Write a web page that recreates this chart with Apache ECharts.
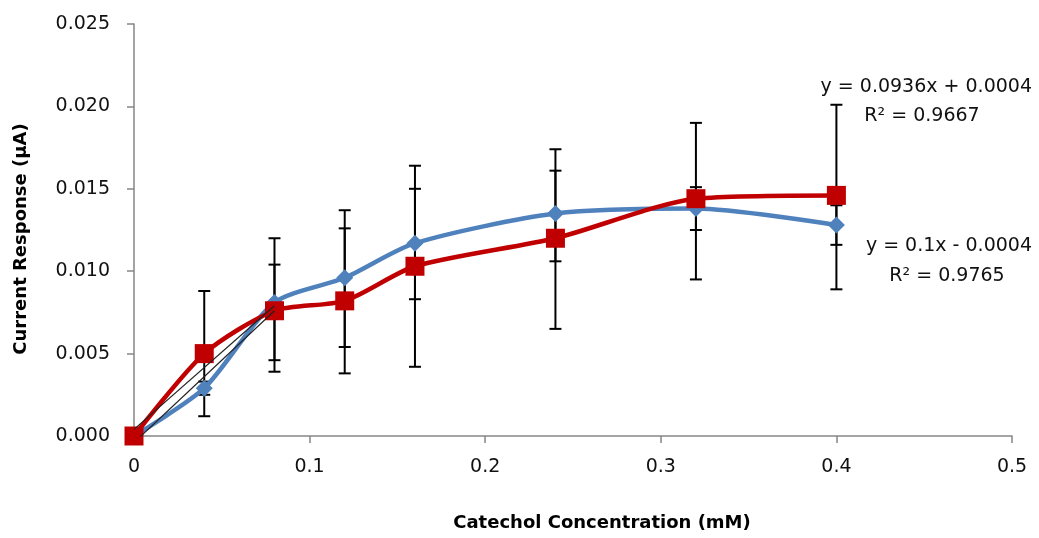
<!DOCTYPE html>
<html>
<head>
<meta charset="utf-8">
<script src="https://cdn.jsdelivr.net/npm/echarts@6/dist/echarts.min.js"></script>
<style>
html,body{margin:0;padding:0;background:#fff;}
#chart{width:1039px;height:538px;}
</style>
</head>
<body>
<div id="chart"></div>
<script>
const xValues = [0, 0.04, 0.08, 0.12, 0.16, 0.24, 0.32, 0.40];
const blueValues = [0, 0.0029, 0.0081, 0.0096, 0.0117, 0.0135, 0.0138, 0.0128];
const redValues = [0, 0.0050, 0.0076, 0.0082, 0.0103, 0.0120, 0.0144, 0.0146];
const blueLow = [0, 0.0025, 0.0039, 0.0054, 0.0083, 0.0106, 0.0125, 0.0116];
const blueHigh = [0, 0.0033, 0.0120, 0.0137, 0.0150, 0.0161, 0.0151, 0.0140];
const redLow = [0, 0.0012, 0.0046, 0.0038, 0.0042, 0.0065, 0.0095, 0.0089];
const redHigh = [0, 0.0088, 0.0104, 0.0126, 0.0164, 0.0174, 0.0190, 0.0201];
const redTrend = [[0, 0.0004], [0.08, 0.0079]];
const blueTrend = [[0, -0.0004], [0.08, 0.0076]];
const xTitle = 'Catechol Concentration (mM)';
const yTitle = 'Current Response (μA)';
const redEq = ['y = 0.0936x + 0.0004', 'R² = 0.9667'];
const blueEq = ['y = 0.1x - 0.0004', 'R² = 0.9765'];

const FONT = 'DejaVu Sans';
const chart = echarts.init(document.getElementById('chart'), null, {renderer: 'canvas'});

function errData(lo, hi) {
  return xValues.map((x, i) => [x, lo[i], hi[i]]).filter(d => d[2] > d[1]);
}
function errSeries(lo, hi) {
  return {
    type: 'custom',
    z: 1,
    silent: true,
    data: errData(lo, hi),
    encode: {x: 0, y: [1, 2]},
    renderItem: function (params, api) {
      const x = api.value(0);
      const p1 = api.coord([x, api.value(1)]);
      const p2 = api.coord([x, api.value(2)]);
      const w = 6;
      const st = {stroke: '#000', lineWidth: 2};
      return {
        type: 'group',
        children: [
          {type: 'line', shape: {x1: p1[0], y1: p1[1], x2: p2[0], y2: p2[1]}, style: st},
          {type: 'line', shape: {x1: p1[0] - w, y1: p1[1], x2: p1[0] + w, y2: p1[1]}, style: st},
          {type: 'line', shape: {x1: p2[0] - w, y1: p2[1], x2: p2[0] + w, y2: p2[1]}, style: st}
        ]
      };
    }
  };
}

const axisLineStyle = {color: '#868686', width: 1.5};

chart.setOption({
  backgroundColor: '#fff',
  animation: false,
  grid: {left: 134, right: 27, top: 24, bottom: 102},
  xAxis: {
    type: 'value', min: 0, max: 0.5, interval: 0.1,
    axisLine: {show: true, lineStyle: axisLineStyle},
    axisTick: {show: true, length: 7, lineStyle: axisLineStyle},
    splitLine: {show: false},
    axisLabel: {fontFamily: FONT, fontSize: 19, color: '#111', margin: 22}
  },
  yAxis: {
    type: 'value', min: 0, max: 0.025, interval: 0.005,
    axisLine: {show: true, lineStyle: axisLineStyle},
    axisTick: {show: true, length: 7, lineStyle: axisLineStyle},
    splitLine: {show: false},
    axisLabel: {fontFamily: FONT, fontSize: 19, color: '#111', margin: 24,
      formatter: v => v.toFixed(3)}
  },
  graphic: [
    {type: 'text', x: 602, y: 523, style: {text: xTitle, font: 'bold 18px ' + FONT, fill: '#000', align: 'center', verticalAlign: 'middle'}},
    {type: 'text', x: 21, y: 239, rotation: Math.PI / 2, style: {text: yTitle, font: 'bold 18px ' + FONT, fill: '#000', align: 'center', verticalAlign: 'middle'}},
    {type: 'text', x: 1032, y: 87, style: {text: redEq[0], font: '19px ' + FONT, fill: '#111', align: 'right', verticalAlign: 'middle'}},
    {type: 'text', x: 922, y: 116, style: {text: redEq[1], font: '19px ' + FONT, fill: '#111', align: 'center', verticalAlign: 'middle'}},
    {type: 'text', x: 1032, y: 246, style: {text: blueEq[0], font: '19px ' + FONT, fill: '#111', align: 'right', verticalAlign: 'middle'}},
    {type: 'text', x: 947, y: 276, style: {text: blueEq[1], font: '19px ' + FONT, fill: '#111', align: 'center', verticalAlign: 'middle'}}
  ],
  series: [
    errSeries(blueLow, blueHigh),
    errSeries(redLow, redHigh),
    {
      type: 'line', z: 3, smooth: 0.25,
      data: xValues.map((x, i) => [x, blueValues[i]]),
      lineStyle: {color: '#4F81BD', width: 4.5},
      itemStyle: {color: '#4F81BD'},
      symbol: 'diamond', symbolSize: 17, showSymbol: true
    },
    {
      type: 'line', z: 4, smooth: 0.25,
      data: xValues.map((x, i) => [x, redValues[i]]),
      lineStyle: {color: '#C00000', width: 4.5},
      itemStyle: {color: '#C00000'},
      symbol: 'rect', symbolSize: 19, showSymbol: true
    },
    {
      type: 'line', z: 5, clip: true, data: redTrend, symbol: 'none',
      lineStyle: {color: '#222', width: 1.2}
    },
    {
      type: 'line', z: 5, clip: true, data: blueTrend, symbol: 'none',
      lineStyle: {color: '#222', width: 1.2}
    }
  ]
});
</script>
</body>
</html>
